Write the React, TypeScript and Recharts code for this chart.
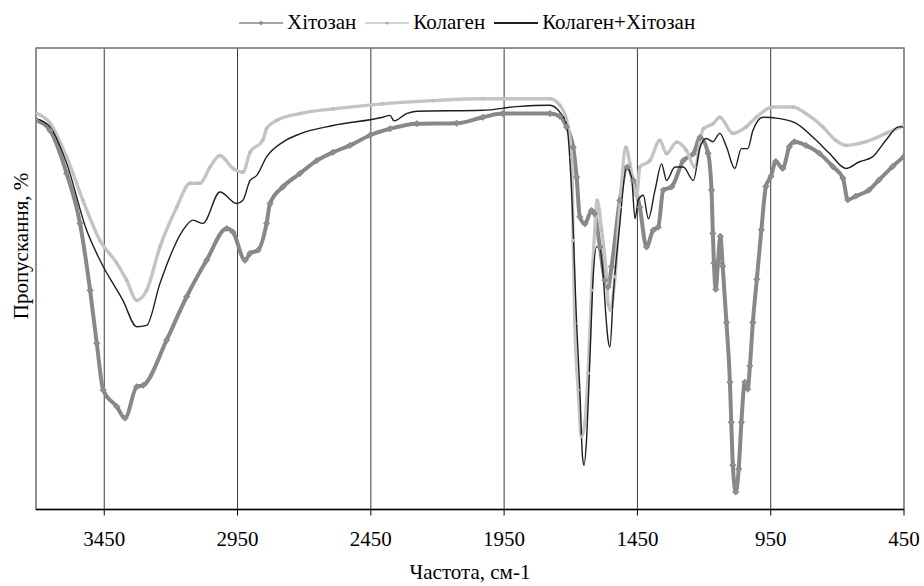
import { LineChart, Line, XAxis, YAxis, CartesianGrid, ReferenceArea } from 'recharts';

// wavenumber (cm-1) and transmittance (%)
const chitosanWn = [
  3705, 3653, 3591, 3541, 3503, 3478, 3454, 3403, 3372, 3328, 3304, 3216, 3141, 3066, 2991, 2967,
  2922, 2903, 2873, 2841, 2828, 2780, 2716, 2653, 2592, 2528, 2453, 2378, 2278, 2128, 2030, 1955,
  1778, 1741, 1716, 1691, 1678, 1666, 1647, 1622, 1610, 1591, 1572, 1560, 1547, 1516, 1488, 1466,
  1441, 1416, 1391, 1372, 1353, 1322, 1278, 1240, 1215, 1185, 1172, 1167, 1163, 1156, 1148, 1139,
  1130, 1116, 1103, 1098, 1092, 1081, 1070, 1060, 1047, 1036, 1028, 1017, 1002, 985, 968, 949,
  931, 905, 880, 861, 818, 768, 717, 679, 661, 631, 582, 544, 493, 450,
];
const chitosanT = [
  84.3, 82.1, 72.8, 62.0, 47.5, 36.0, 25.9, 22.3, 19.8, 26.6, 26.9, 36.7, 46.1, 54.0, 60.9, 60.1,
  54.0, 55.5, 56.2, 62.0, 66.3, 69.9, 72.8, 75.6, 77.4, 78.9, 81.1, 82.5, 83.6, 83.7, 85.0, 85.8,
  85.8, 85.2, 82.9, 78.5, 72.0, 63.4, 61.9, 64.8, 64.1, 56.9, 49.7, 48.2, 52.6, 67.0, 74.2, 71.3,
  65.5, 56.9, 60.5, 61.2, 69.2, 69.9, 75.6, 77.1, 80.6, 77.2, 69.2, 59.8, 53.4, 47.7, 53.4, 59.2,
  52.7, 40.5, 27.6, 18.9, 9.6, 3.8, 8.8, 18.9, 27.6, 26.1, 31.1, 40.5, 49.9, 60.6, 70.0, 72.2,
  75.4, 73.9, 78.6, 79.7, 78.9, 77.2, 74.3, 71.8, 67.1, 67.9, 69.2, 71.4, 74.3, 76.5,
];

const collagenWn = [
  3705, 3653, 3591, 3530, 3466, 3403, 3366, 3328, 3291, 3241, 3178, 3128, 3091, 3053, 3016, 2967,
  2930, 2903, 2855, 2841, 2803, 2716, 2592, 2405, 2217, 2030, 1778, 1741, 1716, 1697, 1691, 1685,
  1672, 1660, 1647, 1635, 1622, 1610, 1601, 1584, 1566, 1560, 1551, 1534, 1516, 1493, 1478, 1453,
  1441, 1403, 1366, 1341, 1303, 1266, 1235, 1203, 1166, 1141, 1092, 1042, 1004, 942, 867, 818,
  754, 706, 668, 593, 518, 450,
];
const collagenT = [
  85.9, 83.7, 76.4, 67.0, 58.3, 53.4, 49.7, 45.3, 47.5, 56.9, 65.5, 70.7, 70.7, 74.2, 76.7, 73.9,
  73.1, 77.4, 80.0, 82.6, 84.3, 85.8, 86.8, 87.9, 88.6, 89.0, 89.0, 87.6, 84.5, 76.4, 58.3, 40.3,
  25.9, 15.8, 18.7, 29.5, 47.5, 60.5, 67.0, 60.5, 50.4, 44.6, 43.2, 50.4, 65.5, 78.5, 74.9, 67.7,
  74.2, 75.6, 80.0, 77.1, 79.6, 77.8, 74.2, 82.5, 83.6, 85.0, 81.5, 82.9, 85.0, 87.2, 87.2, 85.8,
  82.9, 80.0, 78.9, 79.7, 81.5, 83.2,
];

const blendWn = [
  3705, 3653, 3591, 3516, 3466, 3380, 3328, 3291, 3241, 3155, 3117, 3080, 3016, 2953, 2930, 2903,
  2878, 2841, 2780, 2716, 2592, 2405, 2378, 2363, 2316, 2278, 2030, 1903, 1778, 1741, 1716, 1697,
  1678, 1666, 1656, 1650, 1641, 1628, 1616, 1603, 1593, 1578, 1568, 1560, 1553, 1541, 1516, 1491,
  1472, 1459, 1447, 1428, 1409, 1384, 1359, 1341, 1309, 1278, 1240, 1215, 1191, 1167, 1141, 1116,
  1085, 1060, 1036, 1017, 979, 916, 856, 792, 730, 668, 619, 568, 518, 470, 450,
];
const blendT = [
  84.7, 82.9, 75.0, 60.5, 54.0, 45.3, 39.6, 39.9, 49.0, 60.5, 62.7, 62.0, 68.8, 66.3, 67.0, 71.3,
  72.4, 76.4, 79.6, 81.4, 83.2, 85.0, 85.4, 84.2, 85.8, 86.3, 86.5, 87.3, 87.6, 86.1, 83.6, 69.2,
  40.3, 25.9, 11.4, 9.6, 15.0, 33.1, 50.4, 56.9, 56.9, 50.4, 41.7, 36.7, 35.2, 46.1, 61.9, 74.2,
  72.0, 63.0, 67.0, 68.1, 63.0, 69.2, 74.9, 71.3, 74.2, 74.2, 71.3, 78.5, 80.4, 79.7, 81.5, 78.6,
  73.9, 78.2, 78.2, 82.1, 85.0, 84.7, 83.7, 80.7, 77.2, 73.9, 75.3, 76.4, 80.0, 82.9, 82.9,
];

const xTicks = [3450, 2950, 2450, 1950, 1450, 950, 450];
const yTicks = [0, 20, 40, 60, 80, 100];

const toPoints = (wn: number[], t: number[]) => wn.map((w, i) => ({ wn: w, t: t[i] }));

const chitosan = toPoints(chitosanWn, chitosanT);
const collagen = toPoints(collagenWn, collagenT);
const blend = toPoints(blendWn, blendT);

const FONT = '"Liberation Serif", "Times New Roman", serif';

const Diamond = (props: any) => {
  const { cx, cy, index } = props;
  if (cx == null || cy == null) return <g key={`dm-${index}`} />;
  const s = 3.2;
  return (
    <path
      key={`dm-${index}`}
      d={`M${cx},${cy - s}L${cx + s},${cy}L${cx},${cy + s}L${cx - s},${cy}Z`}
      fill="#8e8e8e"
      stroke="#7c7c7c"
      strokeWidth={0.6}
    />
  );
};

const SmallDot = (props: any) => {
  const { cx, cy, index } = props;
  if (cx == null || cy == null) return <g key={`sd-${index}`} />;
  return <circle key={`sd-${index}`} cx={cx} cy={cy} r={1.8} fill="#bdbdbd" />;
};

function LegendRow() {
  const item = (label: string, color: string, width: number, marker: 'diamond' | 'dot' | null) => (
    <div style={{ display: 'flex', alignItems: 'center', marginRight: 9 }}>
      <svg width={44} height={10} style={{ marginRight: 4 }}>
        <line x1={0} y1={5} x2={44} y2={5} stroke={color} strokeWidth={width} />
        {marker === 'diamond' && <path d="M22,2.5L24.5,5L22,7.5L19.5,5Z" fill="#8e8e8e" />}
        {marker === 'dot' && <circle cx={22} cy={5} r={1.6} fill="#aaaaaa" />}
      </svg>
      <span>{label}</span>
    </div>
  );
  return (
    <div
      style={{
        position: 'absolute',
        left: 239,
        top: 12,
        display: 'flex',
        alignItems: 'center',
        fontFamily: FONT,
        fontSize: 21,
        lineHeight: 1,
        color: '#000',
        whiteSpace: 'nowrap',
      }}
    >
      {item('Хітозан', '#8a8a8a', 1.6, 'diamond')}
      {item('Колаген', '#c4c4c4', 1.6, 'dot')}
      {item('Колаген+Хітозан', '#1e1e1e', 2, null)}
    </div>
  );
}

export default function App() {
  return (
    <div style={{ position: 'absolute', left: 0, top: 0, width: 924, height: 586, background: '#fff' }}>
      <LineChart width={924} height={586} margin={{ top: 48, right: 20, bottom: 36, left: 36 }}>
        <CartesianGrid stroke="#3a3a3a" strokeWidth={1} />
        <XAxis
          dataKey="wn"
          type="number"
          domain={[450, 3706]}
          reversed
          ticks={xTicks}
          allowDataOverflow
          height={40.5}
          axisLine={{ stroke: '#000', strokeWidth: 1.6 }}
          tickLine={{ stroke: '#000' }}
          tickSize={6}
          tickMargin={16}
          tick={{ fontSize: 21, fill: '#000', fontFamily: FONT }}
        />
        <YAxis
          type="number"
          domain={[0, 100]}
          ticks={yTicks}
          allowDataOverflow
          width={0}
          tick={false}
          axisLine={false}
          tickLine={false}
        />
        <ReferenceArea x1={3706} x2={450} y1={0} y2={100} fill="none" stroke="#8c8c8c" strokeWidth={1.6} />
        <Line
          data={chitosan}
          dataKey="t"
          type="monotone"
          stroke="#888888"
          strokeWidth={4}
          dot={Diamond}
          isAnimationActive={false}
        />
        <Line
          data={collagen}
          dataKey="t"
          type="monotone"
          stroke="#c4c4c4"
          strokeWidth={3.4}
          dot={SmallDot}
          isAnimationActive={false}
        />
        <Line
          data={blend}
          dataKey="t"
          type="monotone"
          stroke="#1e1e1e"
          strokeWidth={1.4}
          dot={false}
          isAnimationActive={false}
        />
      </LineChart>
      <LegendRow />
      <div
        style={{
          position: 'absolute',
          left: 21,
          top: 246,
          transform: 'translate(-50%, -50%) rotate(-90deg)',
          fontFamily: FONT,
          fontSize: 21,
          lineHeight: 1,
          whiteSpace: 'nowrap',
        }}
      >
        Пропускання, %
      </div>
      <div
        style={{
          position: 'absolute',
          left: 470,
          top: 562,
          transform: 'translateX(-50%)',
          fontFamily: FONT,
          fontSize: 21,
          lineHeight: 1,
          whiteSpace: 'nowrap',
        }}
      >
        Частота, см-1
      </div>
    </div>
  );
}
